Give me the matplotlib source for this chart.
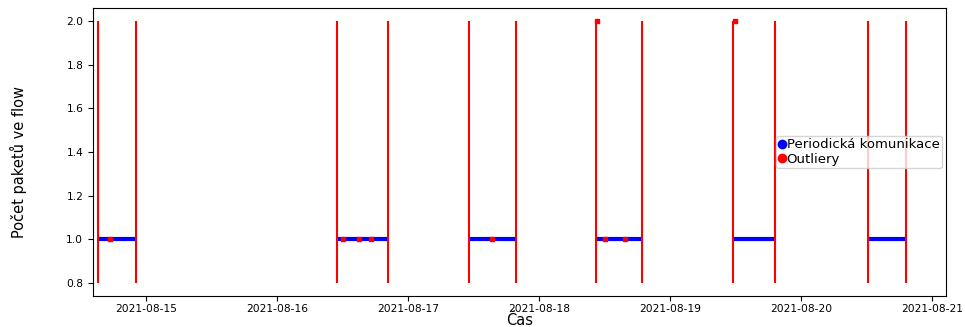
import matplotlib
matplotlib.use("Agg")
import matplotlib.pyplot as plt
import matplotlib.dates as mdates
from matplotlib.lines import Line2D
import pandas as pd

# Periodic communication windows (start / end)
seg_start = pd.to_datetime(["2021-08-14 15:12", "2021-08-16 11:00", "2021-08-17 11:11",
                            "2021-08-18 10:26", "2021-08-19 11:32", "2021-08-20 12:16"])
seg_end = pd.to_datetime(["2021-08-14 22:10", "2021-08-16 20:20", "2021-08-17 19:47",
                          "2021-08-18 18:52", "2021-08-19 19:15", "2021-08-20 19:15"])
periodic_value = 1.0

# Outlier lines spanning packet counts
outlier_low = 0.8
outlier_high = 2.0

# Individual outlier points
out_times = pd.to_datetime(["2021-08-14 17:20", "2021-08-16 12:00", "2021-08-16 15:00",
                            "2021-08-16 17:10", "2021-08-18 12:10", "2021-08-18 15:40",
                            "2021-08-18 10:40", "2021-08-19 11:50", "2021-08-17 15:20"])
out_values = [1.0, 1.0, 1.0, 1.0, 1.0, 1.0, 2.0, 2.0, 1.0]

xlim = pd.to_datetime(["2021-08-14 14:17", "2021-08-21 02:34"])

fig = plt.figure(figsize=(9.65, 3.27), dpi=100)
ax = fig.add_axes([93/965, 31/327, 853/965, 288/327])

ax.hlines([periodic_value]*len(seg_start), seg_start, seg_end, color="blue", linewidth=3, zorder=2)
ax.vlines(seg_start, outlier_low, outlier_high, color="red", linewidth=1.5, zorder=3)
ax.vlines(seg_end, outlier_low, outlier_high, color="red", linewidth=1.5, zorder=3)
ax.scatter(out_times, out_values, color="red", s=5, marker="s", zorder=4)

ax.set_xlim(xlim)
ax.set_ylim(0.74, 2.06)
ax.set_yticks([0.8, 1.0, 1.2, 1.4, 1.6, 1.8, 2.0])
ax.xaxis.set_major_locator(mdates.DayLocator())
ax.xaxis.set_major_formatter(mdates.DateFormatter("%Y-%m-%d"))
ax.tick_params(labelsize=7.7)
ax.tick_params(axis="x", pad=2.5)
ax.set_xlabel("Čas", fontsize=10.5, labelpad=-1)
ax.set_ylabel("Počet paketů ve flow", fontsize=10.5)
ax.yaxis.set_label_coords(-0.077, 0.465)

handles = [Line2D([], [], linestyle="none", marker="o", color="blue", markersize=6),
           Line2D([], [], linestyle="none", marker="o", color="red", markersize=6)]
ax.legend(handles, ["Periodická komunikace", "Outliery"], loc="center right", fontsize=9.5,
          handlelength=0.5, handletextpad=0.1, borderpad=0.2, labelspacing=0.1,
          borderaxespad=0.3)

fig.savefig("out.png", dpi=100)
